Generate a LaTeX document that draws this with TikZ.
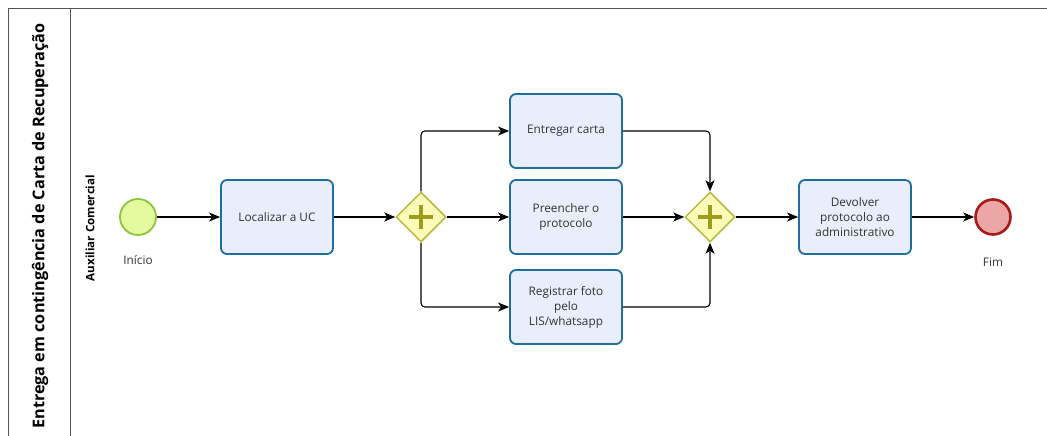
\documentclass[tikz,border=0pt]{standalone}
\usepackage{fontspec}
\setmainfont{Open Sans}
\usetikzlibrary{arrows.meta,shapes.geometric}

\definecolor{taskfill}{HTML}{E8EEFC}
\definecolor{taskline}{HTML}{1F6E9E}
\definecolor{gwfill}{HTML}{FCFCB8}
\definecolor{gwline}{HTML}{B8B840}
\definecolor{gwplus}{HTML}{9E9E1E}
\definecolor{startfill}{HTML}{E4FA9E}
\definecolor{startline}{HTML}{8CC43C}
\definecolor{endfill}{HTML}{EBA6A6}
\definecolor{endline}{HTML}{A61A1A}
\definecolor{poolline}{HTML}{555555}
\definecolor{labeltext}{HTML}{333333}

\tikzset{
  taskbox/.style={draw=taskline, line width=1.8pt, fill=taskfill, rounded corners=6pt,
    minimum width=112pt, minimum height=74pt, align=center, font=\fontsize{11.8}{15}\selectfont,
    text=labeltext, inner sep=2pt},
  gateway/.style={diamond, draw=gwline, line width=1.5pt, fill=gwfill,
    minimum width=50pt, minimum height=50pt, inner sep=0pt},
  startev/.style={circle, draw=startline, line width=1.8pt, fill=startfill, minimum size=36pt, inner sep=0pt},
  endev/.style={circle, draw=endline, line width=2.6pt, fill=endfill, minimum size=35pt, inner sep=0pt},
  evlabel/.style={font=\fontsize{11.8}{14}\selectfont, text=labeltext},
  flow/.style={line width=1.1pt, black, rounded corners=4pt,
    -{Stealth[length=11pt,width=9pt,inset=3pt]}},
  plusbar/.style={line width=4.5pt, gwplus}
}

\begin{document}
\begin{tikzpicture}[x=1pt,y=-1pt]
\useasboundingbox (0,0) rectangle (1047,436);

% pool frame and header strip
\draw[poolline, line width=0.9pt] (8,437) -- (8,8) -- (1048,8);
\draw[poolline, line width=0.9pt] (70.5,8) -- (70.5,437);
\node[rotate=90, font=\fontsize{16.2}{19}\selectfont\bfseries, text=black] (pool) at (40,226)
  {Entrega em contingência de Carta de Recuperação};
\node[rotate=90, font=\fontsize{11.6}{13}\selectfont\bfseries, text=black] (lane) at (90,228)
  {Auxiliar Comercial};

% events
\node[startev] (start) at (138,217) {};
\node[evlabel] (startlbl) at (138,260) {Início};
\node[endev] (end) at (993,217) {};
\node[evlabel] (endlbl) at (993,262) {Fim};

% tasks
\node[taskbox] (loc) at (277,217) {Localizar a UC};
\node[taskbox] (carta) at (566,131) {Entregar carta};
\node[taskbox] (proto) at (566,217) {Preencher o\\protocolo};
\node[taskbox] (foto) at (566,307) {Registrar foto\\pelo\\LIS/whatsapp};
\node[taskbox] (devol) at (855,217) {Devolver\\protocolo ao\\administrativo};

% parallel gateways
\node[gateway] (split) at (421,217) {};
\node[gateway] (join) at (710,217) {};
\foreach \g in {split,join}{
  \draw[plusbar] ([yshift=-12pt]\g.center) -- ([yshift=12pt]\g.center);
  \draw[plusbar] ([xshift=-12pt]\g.center) -- ([xshift=12pt]\g.center);
}

% sequence flows
\draw[flow] (start) -- (loc);
\draw[flow] (loc) -- (split);
\draw[flow] (split.north) |- (carta.west);
\draw[flow] (split) -- (proto);
\draw[flow] (split.south) |- (foto.west);
\draw[flow] (carta.east) -| (join.north);
\draw[flow] (proto) -- (join);
\draw[flow] (foto.east) -| (join.south);
\draw[flow] (join) -- (devol);
\draw[flow] (devol) -- (end);
\end{tikzpicture}
\end{document}
